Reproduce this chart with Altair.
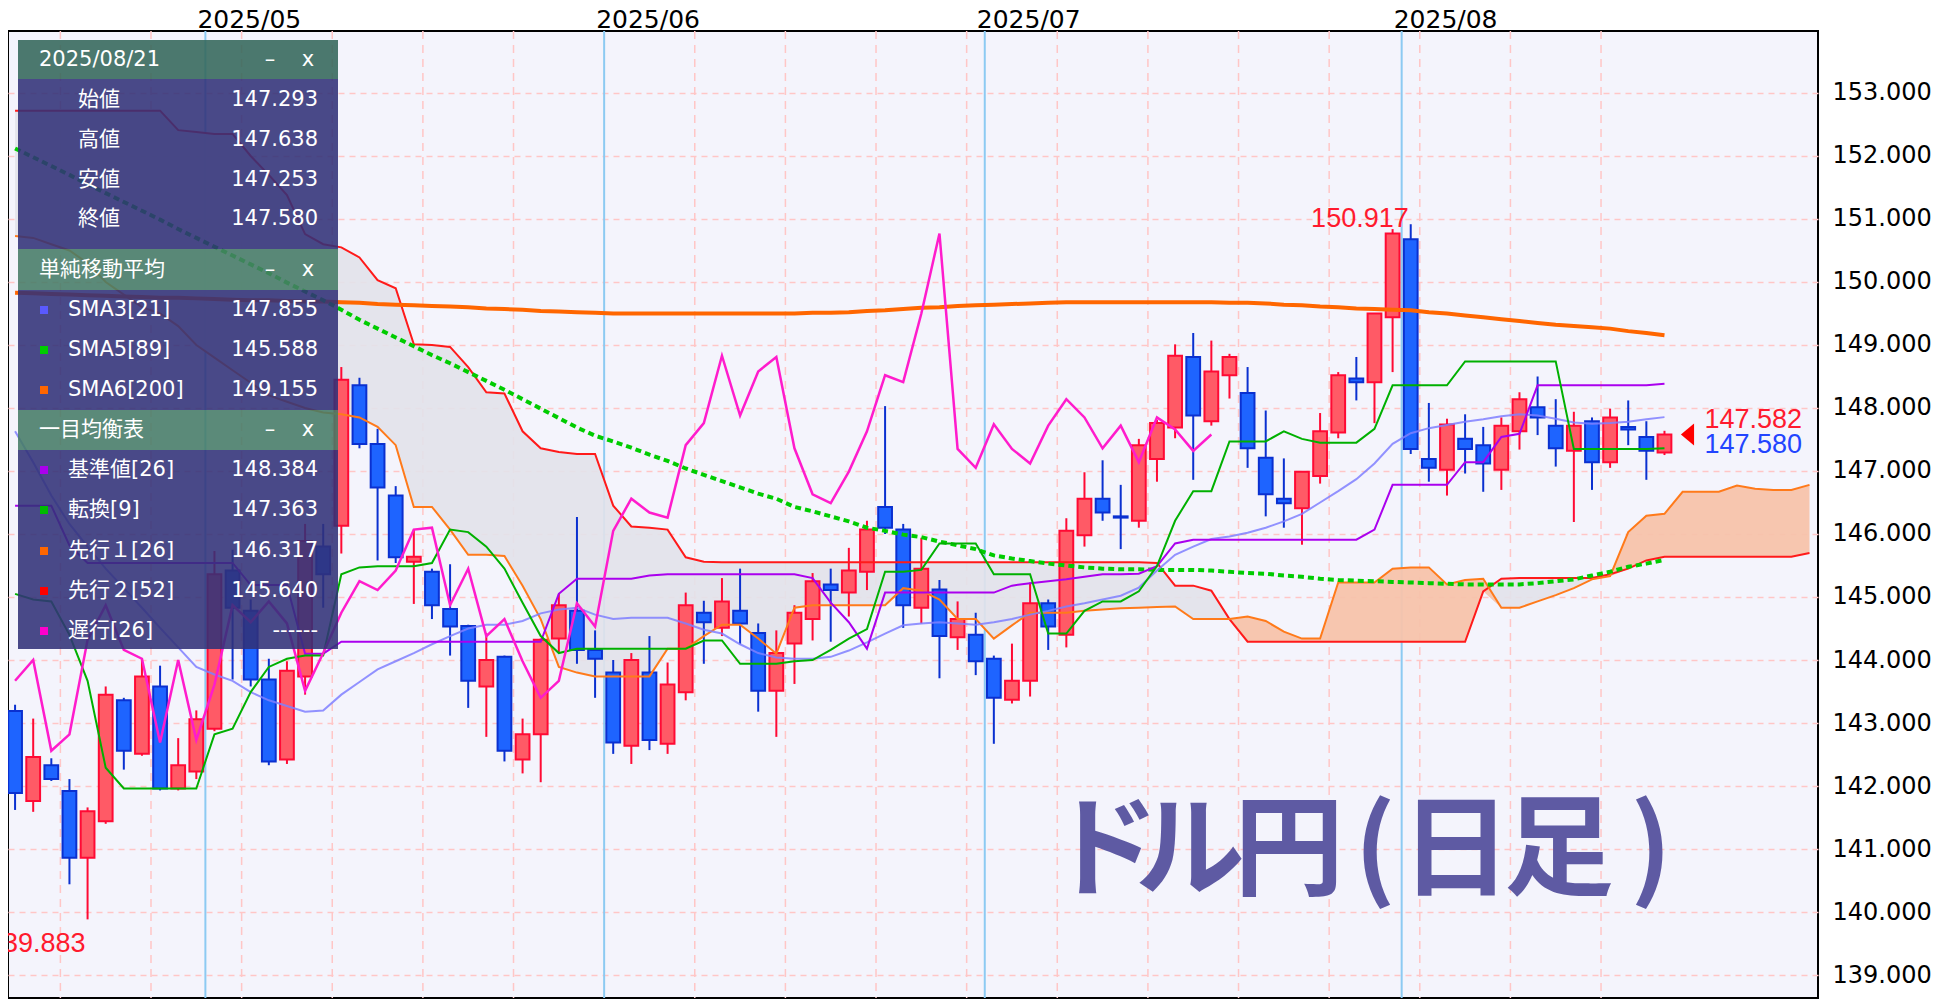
import altair as alt
import pandas as pd

# ---------------- data ----------------
opens = [143.19, 141.76, 142.33, 141.92, 140.86, 141.44, 143.36, 142.51, 143.58, 141.96,
         142.23, 142.91, 145.42, 144.78, 143.69, 142.42, 143.74, 145.80, 146.13, 148.36,
         147.43, 146.61, 145.56, 145.40, 144.81, 144.54, 143.58, 144.05, 142.42, 142.82,
         144.34, 144.78, 144.16, 143.80, 142.64, 143.80, 142.67, 143.49, 144.75, 144.51,
         144.78, 144.43, 143.51, 144.26, 144.65, 145.20, 145.07, 145.40, 146.43, 146.07,
         144.83, 145.12, 144.36, 144.40, 144.02, 143.37, 143.67, 144.90, 144.40, 145.98,
         146.56, 146.28, 146.21, 147.19, 147.69, 148.81, 147.79, 148.52, 148.24, 147.21,
         146.56, 146.41, 146.92, 147.61, 148.47, 148.41, 149.44, 150.68, 147.19, 147.02,
         147.51, 147.41, 147.02, 147.63, 148.01, 147.72, 147.32, 147.79, 147.14, 147.70,
         147.54, 147.293]
highs = [143.29, 143.07, 142.44, 142.11, 141.66, 143.58, 143.40, 144.02, 143.91, 142.76,
         143.20, 145.73, 145.75, 144.96, 144.02, 143.98, 146.16, 146.16, 148.65, 148.48,
         147.67, 146.76, 146.07, 145.45, 145.52, 144.56, 144.43, 144.07, 143.07, 144.34,
         145.05, 146.27, 144.47, 144.00, 144.11, 144.38, 143.96, 145.07, 144.94, 145.30,
         145.45, 144.58, 144.47, 144.87, 145.38, 145.45, 145.78, 146.21, 148.03, 146.16,
         145.94, 145.27, 144.93, 144.75, 144.07, 144.26, 145.23, 144.96, 146.25, 146.98,
         147.17, 146.78, 147.51, 147.81, 149.01, 149.19, 149.07, 148.86, 148.65, 147.96,
         147.20, 146.99, 147.92, 148.57, 148.81, 149.50, 150.84, 150.917, 148.08, 147.83,
         147.90, 147.70, 147.85, 148.25, 148.50, 148.14, 147.94, 147.85, 147.99, 148.12,
         147.79, 147.638]
lows = [141.62, 141.59, 142.08, 140.44, 139.883, 141.40, 142.26, 142.48, 141.93, 141.93,
        142.11, 142.87, 143.69, 143.58, 142.33, 142.35, 143.45, 144.83, 145.69, 147.36,
        145.58, 145.54, 144.89, 144.65, 144.07, 143.24, 142.78, 142.39, 142.20, 142.06,
        144.11, 143.94, 143.40, 142.51, 142.35, 142.57, 142.51, 143.36, 143.94, 144.38,
        144.25, 143.18, 142.78, 143.62, 144.31, 144.29, 144.69, 145.11, 146.00, 144.51,
        144.58, 143.71, 144.16, 143.76, 142.67, 143.31, 143.42, 144.16, 144.20, 145.80,
        146.21, 145.76, 146.10, 146.83, 147.52, 146.86, 147.72, 148.15, 147.05, 146.28,
        146.10, 145.83, 146.80, 147.52, 148.12, 147.76, 148.57, 147.27, 146.83, 146.61,
        146.96, 146.67, 146.70, 147.34, 147.57, 147.07, 146.19, 146.70, 147.05, 147.41,
        146.86, 147.253]
closes = [141.89, 142.46, 142.11, 140.86, 141.60, 143.45, 142.56, 143.74, 141.96, 142.33,
          143.06, 145.36, 144.83, 143.69, 142.39, 143.83, 145.89, 145.36, 148.45, 147.43,
          146.74, 145.63, 145.64, 144.87, 144.53, 143.67, 144.00, 142.56, 142.82, 144.32,
          144.87, 144.16, 144.02, 142.69, 144.00, 142.73, 143.61, 144.87, 144.60, 144.93,
          144.58, 143.51, 144.11, 144.75, 145.25, 145.11, 145.42, 146.07, 146.10, 144.87,
          145.45, 144.38, 144.65, 143.98, 143.40, 143.67, 144.90, 144.53, 146.05, 146.56,
          146.34, 146.26, 147.41, 147.76, 148.83, 147.88, 148.58, 148.81, 147.36, 146.63,
          146.49, 146.99, 147.63, 148.52, 148.41, 149.50, 150.77, 147.35, 147.05, 147.74,
          147.35, 147.12, 147.72, 148.14, 147.85, 147.36, 147.72, 147.14, 147.85, 147.66,
          147.32, 147.580]

sma21 = [147.63, 147.14, 146.61, 146.16, 145.80, 145.45, 145.14, 144.83, 144.51, 144.20,
         143.89, 143.77, 143.67, 143.49, 143.36, 143.27, 143.18, 143.20, 143.45, 143.65,
         143.85, 143.98, 144.11, 144.25, 144.38, 144.50, 144.56, 144.56, 144.62, 144.74,
         144.80, 144.83, 144.72, 144.65, 144.67, 144.67, 144.67, 144.58, 144.48, 144.42,
         144.25, 144.11, 144.04, 144.02, 144.02, 144.05, 144.15, 144.28, 144.42, 144.55,
         144.58, 144.60, 144.58, 144.56, 144.60, 144.65, 144.72, 144.78, 144.85, 144.90,
         144.96, 145.02, 145.15, 145.42, 145.67, 145.80, 145.92, 145.96, 146.02, 146.10,
         146.20, 146.32, 146.50, 146.68, 146.87, 147.12, 147.43, 147.60, 147.68, 147.73,
         147.78, 147.82, 147.87, 147.90, 147.88, 147.83, 147.77, 147.75, 147.76, 147.78,
         147.82, 147.855]
sma89 = [152.12, 151.98, 151.84, 151.70, 151.55, 151.41, 151.27, 151.13, 150.99, 150.84,
         150.70, 150.56, 150.42, 150.28, 150.14, 149.99, 149.85, 149.71, 149.56, 149.40,
         149.26, 149.12, 148.98, 148.84, 148.71, 148.57, 148.43, 148.29, 148.14, 147.99,
         147.84, 147.69, 147.56, 147.47, 147.37, 147.26, 147.16, 147.04, 146.94, 146.84,
         146.74, 146.64, 146.56, 146.43, 146.36, 146.28, 146.20, 146.10, 146.05, 145.99,
         145.95, 145.88, 145.82, 145.76, 145.66, 145.61, 145.57, 145.53, 145.50, 145.47,
         145.45, 145.44, 145.44, 145.43, 145.43, 145.43, 145.42, 145.40, 145.38, 145.37,
         145.34, 145.32, 145.29, 145.27, 145.26, 145.25, 145.24, 145.23, 145.22, 145.21,
         145.20, 145.20, 145.20, 145.20, 145.22, 145.25, 145.28, 145.34, 145.40, 145.48,
         145.53, 145.588]
sma200 = [149.83, 149.82, 149.81, 149.80, 149.79, 149.78, 149.77, 149.76, 149.75, 149.75,
          149.74, 149.73, 149.72, 149.71, 149.71, 149.70, 149.69, 149.69, 149.68, 149.67,
          149.65, 149.64, 149.63, 149.62, 149.61, 149.60, 149.58, 149.57, 149.56, 149.54,
          149.53, 149.52, 149.51, 149.50, 149.50, 149.50, 149.50, 149.50, 149.50, 149.50,
          149.50, 149.50, 149.50, 149.50, 149.51, 149.51, 149.52, 149.54, 149.55, 149.57,
          149.59, 149.60, 149.62, 149.63, 149.64, 149.65, 149.66, 149.67, 149.68, 149.68,
          149.68, 149.68, 149.68, 149.68, 149.68, 149.68, 149.68, 149.67, 149.67, 149.66,
          149.64, 149.63, 149.61, 149.60, 149.58, 149.57, 149.56, 149.55, 149.52, 149.50,
          149.47, 149.44, 149.41, 149.38, 149.35, 149.32, 149.30, 149.28, 149.26, 149.22,
          149.19, 149.155]
kijun = [146.45, 146.45, 146.45, 145.82, 145.54, 145.54, 145.54, 145.54, 145.54, 145.54,
         145.54, 145.54, 145.54, 145.19, 145.19, 145.19, 144.10, 144.10, 144.29, 144.29,
         144.29, 144.29, 144.29, 144.29, 144.29, 144.29, 144.29, 144.29, 144.29, 144.29,
         145.05, 145.29, 145.29, 145.29, 145.29, 145.34, 145.36, 145.36, 145.36, 145.36,
         145.36, 145.36, 145.36, 145.36, 145.30, 144.91, 144.60, 144.18, 145.07, 145.07,
         145.07, 145.07, 145.07, 145.07, 145.07, 145.18, 145.22, 145.25, 145.28, 145.32,
         145.36, 145.36, 145.37, 145.49, 145.85, 145.91, 145.91, 145.91, 145.91, 145.91,
         145.91, 145.91, 145.91, 145.91, 145.91, 146.07, 146.78, 146.78, 146.78, 146.78,
         147.14, 147.14, 147.54, 147.59, 148.36, 148.36, 148.36, 148.36, 148.36, 148.36,
         148.36, 148.384]
tenkan = [145.05, 144.96, 144.93, 144.40, 143.67, 142.29, 141.96, 141.96, 141.96, 141.96,
          141.96, 142.82, 142.91, 143.49, 143.89, 144.02, 144.07, 144.07, 145.36, 145.47,
          145.49, 145.49, 145.49, 145.54, 146.07, 146.03, 145.80, 145.45, 144.91, 144.38,
          144.11, 144.18, 144.18, 144.18, 144.18, 144.18, 144.18, 144.18, 144.31, 144.31,
          143.94, 143.94, 143.94, 143.98, 144.00, 144.16, 144.34, 144.49, 145.40, 145.40,
          145.43, 145.85, 145.85, 145.85, 145.36, 145.36, 145.36, 144.42, 144.42, 144.78,
          144.93, 144.93, 145.09, 145.49, 146.21, 146.68, 146.68, 147.47, 147.47, 147.47,
          147.63, 147.51, 147.45, 147.45, 147.45, 147.67, 148.36, 148.36, 148.36, 148.36,
          148.74, 148.74, 148.74, 148.74, 148.74, 148.74, 147.35, 147.35, 147.35, 147.35,
          147.35, 147.363]
senkou_a = [150.73, 150.70, 150.60, 150.50, 150.30, 150.00, 149.80, 149.60, 149.50, 149.30,
            149.00, 148.80, 148.60, 148.40, 148.20, 148.10, 148.00, 147.93, 147.90, 147.85,
            147.70, 147.41, 146.43, 146.43, 146.07, 145.67, 145.67, 145.65, 145.18, 144.65,
            143.89, 143.80, 143.74, 143.74, 143.74, 143.74, 144.18, 144.18, 144.38, 144.56,
            144.56, 144.34, 144.10, 144.83, 144.87, 144.87, 144.87, 144.87, 144.87, 145.14,
            145.10, 144.96, 144.65, 144.65, 144.34, 144.55, 144.75, 144.75, 144.75, 144.78,
            144.80, 144.82, 144.83, 144.84, 144.85, 144.65, 144.65, 144.65, 144.69, 144.62,
            144.45, 144.34, 144.34, 145.23, 145.23, 145.23, 145.45, 145.47, 145.47, 145.20,
            145.27, 145.29, 144.83, 144.83, 144.93, 145.03, 145.14, 145.28, 145.33, 146.03,
            146.29, 146.32, 146.67, 146.67, 146.67, 146.77, 146.72, 146.70, 146.70, 146.78]
senkou_b = [152.72, 152.72, 152.72, 152.72, 152.72, 152.72, 152.72, 152.72, 152.72, 152.41,
            152.38, 152.35, 152.35, 152.00, 151.70, 151.38, 150.76, 150.60, 150.55, 150.39,
            150.03, 149.90, 149.01, 149.00, 148.97, 148.65, 148.25, 148.23, 147.63, 147.36,
            147.30, 147.27, 147.27, 146.45, 146.12, 146.10, 146.07, 145.63, 145.56, 145.55,
            145.55, 145.55, 145.55, 145.55, 145.55, 145.55, 145.55, 145.55, 145.55, 145.55,
            145.55, 145.55, 145.55, 145.55, 145.55, 145.55, 145.55, 145.55, 145.55, 145.55,
            145.55, 145.55, 145.55, 145.54, 145.18, 145.18, 145.10, 144.65, 144.29, 144.29,
            144.29, 144.29, 144.29, 144.29, 144.29, 144.29, 144.29, 144.29, 144.29, 144.29,
            144.29, 145.09, 145.29, 145.30, 145.30, 145.30, 145.30, 145.30, 145.36, 145.45,
            145.58, 145.64, 145.64, 145.64, 145.64, 145.64, 145.64, 145.64, 145.64, 145.70]
chikou = [143.67, 144.00, 142.56, 142.82, 144.32, 144.87, 144.16, 144.02, 142.69, 144.00,
          142.73, 143.61, 144.87, 144.60, 144.93, 144.58, 143.51, 144.11, 144.75, 145.25,
          145.11, 145.42, 146.07, 146.10, 144.87, 145.45, 144.38, 144.65, 143.98, 143.40,
          143.67, 144.90, 144.53, 146.05, 146.56, 146.34, 146.26, 147.41, 147.76, 148.83,
          147.88, 148.58, 148.81, 147.36, 146.63, 146.49, 146.99, 147.63, 148.52, 148.41,
          149.50, 150.77, 147.35, 147.05, 147.74, 147.35, 147.12, 147.72, 148.14, 147.85,
          147.36, 147.72, 147.14, 147.85, 147.66, 147.32, 147.58]

# calendar: index of Mondays and of first trading day of each month
monday_idx = [3, 8, 13, 18, 23, 28, 38, 43, 48, 53, 58, 63, 68, 73, 78, 83, 88]
month_idx = [11, 33, 54, 77]
month_labels = ["2025/05", "2025/06", "2025/07", "2025/08"]
y_ticks = list(range(139, 154))

# info panel texts
panel_date = "2025/08/21"
ohlc_labels = ["始値", "高値", "安値", "終値"]
ohlc_values = ["147.293", "147.638", "147.253", "147.580"]
sma_labels = ["SMA3[21]", "SMA5[89]", "SMA6[200]"]
sma_values = ["147.855", "145.588", "149.155"]
sma_colors = ["#5a5aff", "#00cc00", "#ff6600"]
ichi_labels = ["基準値[26]", "転換[9]", "先行１[26]", "先行２[52]", "遅行[26]"]
ichi_values = ["148.384", "147.363", "146.317", "145.640", "------"]
ichi_colors = ["#aa00ee", "#00bb00", "#ff6600", "#ff0000", "#ff00cc"]
section_titles = ["単純移動平均", "一目均衡表"]
price_tags = ["147.582", "147.580"]
title_chars = ["ド", "ル", "円", "(", "日", "足", ")"]

# ---------------- styling ----------------
FONT = "DejaVu Sans, Noto Sans CJK JP"
W, H = 1810, 967
RED_F, RED_S = "#ff5a66", "#ff0a34"
BLU_F, BLU_S = "#1e64ff", "#0a30d0"

xscale = alt.Scale(domain=[-0.39, 99.47], nice=False, zero=False)
yscale = alt.Scale(domain=[138.635, 153.984], nice=False, zero=False)
yaxis = alt.Axis(orient="right", values=y_ticks, format=".3f", labelFontSize=24,
                 labelFont="DejaVu Sans", labelColor="#000000", ticks=False, domain=False,
                 labelPadding=14, grid=True, gridColor="#ffc6c6", gridDash=[6, 5],
                 gridWidth=1.5, title=None)


def X(f):
    return alt.X(f, type="quantitative", scale=xscale, axis=None)


def Y(f):
    return alt.Y(f, type="quantitative", scale=yscale, axis=yaxis)


N = len(closes)
candles = pd.DataFrame({"i": list(range(N)), "o": opens, "h": highs, "l": lows, "c": closes})
up = "datum.c >= datum.o"

layers = []

# vertical grid
layers.append(alt.Chart(pd.DataFrame({"i": monday_idx})).transform_calculate(xs="datum.i - 0.5")
              .mark_rule(color="#ffc6c6", strokeWidth=1.5, strokeDash=[8, 6])
              .encode(x=X("xs:Q")))
layers.append(alt.Chart(pd.DataFrame({"i": month_idx})).transform_calculate(xs="datum.i - 0.5")
              .mark_rule(color="#8ccaf2", strokeWidth=2)
              .encode(x=X("xs:Q")))

# cloud
cloud = pd.DataFrame({"i": list(range(len(senkou_a))), "a": senkou_a, "b": senkou_b})
cbase = alt.Chart(cloud).transform_calculate(lo="min(datum.a, datum.b)")
layers.append(cbase.mark_area(color="#e2e2ea", opacity=0.9, clip=True)
              .encode(x=X("i:Q"), y=Y("b:Q"), y2="lo:Q"))
layers.append(cbase.mark_area(color="#f7c3ab", opacity=0.95, clip=True)
              .encode(x=X("i:Q"), y=Y("a:Q"), y2="lo:Q"))

# candles
layers.append(alt.Chart(candles).mark_rule(strokeWidth=2)
              .encode(x=X("i:Q"), y=Y("l:Q"), y2="h:Q",
                      color=alt.condition(up, alt.value(RED_S), alt.value(BLU_S))))
layers.append(alt.Chart(candles).transform_calculate(x1="datum.i - 0.38", x2="datum.i + 0.38")
              .mark_rect(strokeWidth=2)
              .encode(x=X("x1:Q"), x2="x2:Q", y=Y("o:Q"), y2="c:Q",
                      fill=alt.condition(up, alt.value(RED_F), alt.value(BLU_F)),
                      stroke=alt.condition(up, alt.value(RED_S), alt.value(BLU_S))))


def line(values, color, width, dash=None, opacity=1.0):
    df = pd.DataFrame({"i": list(range(len(values))), "v": values})
    kw = dict(color=color, strokeWidth=width, opacity=opacity, clip=True)
    if dash:
        kw["strokeDash"] = dash
    return alt.Chart(df).mark_line(**kw).encode(x=X("i:Q"), y=Y("v:Q"))


layers.append(line(senkou_b, "#ff1a1a", 2))
layers.append(line(senkou_a, "#ff7a1a", 2))
layers.append(line(sma200, "#ff6600", 4))
layers.append(line(sma89, "#00cc00", 4, dash=[6, 4]))
layers.append(line(sma21, "#7f7fff", 2, opacity=0.85))
layers.append(line(kijun, "#aa00ee", 2))
layers.append(line(tenkan, "#00b000", 2))
layers.append(line(chikou, "#ff1ccc", 2.5))

# big title (each glyph placed)
title_df = pd.DataFrame({"t": title_chars, "x": [1096, 1182, 1281, 1367, 1448, 1551, 1643]})
layers.append(alt.Chart(title_df).mark_text(font="Noto Sans CJK JP", fontWeight="bold",
                                            fontSize=110, color="#5e5aa3", align="center",
                                            baseline="alphabetic")
              .encode(x=alt.X("x:Q", scale=None), y=alt.value(856), text="t:N"))

# high / low labels
hi_i = highs.index(max(highs))
lo_i = lows.index(min(lows))
layers.append(alt.Chart(pd.DataFrame({"i": [hi_i], "p": [highs[hi_i]], "t": [f"{highs[hi_i]:.3f}"]}))
              .mark_text(font="Liberation Sans", fontSize=27, color="#ff1a2e", align="right",
                         baseline="alphabetic", dx=-2, dy=3)
              .encode(x=X("i:Q"), y=Y("p:Q"), text="t:N"))
layers.append(alt.Chart(pd.DataFrame({"i": [lo_i], "p": [lows[lo_i]], "t": [f"{lows[lo_i]:.3f}"]}))
              .mark_text(font="Liberation Sans", fontSize=27, color="#ff1a2e", align="right",
                         baseline="alphabetic", dx=-2, dy=33)
              .encode(x=X("i:Q"), y=Y("p:Q"), text="t:N"))

# last price marker
last = pd.DataFrame({"i": [N - 1], "c": [closes[-1]], "t1": [price_tags[0]], "t2": [price_tags[1]]})
layers.append(alt.Chart(last).mark_point(shape="M0.6,-1L-0.6,0L0.6,1Z", size=484, filled=True,
                                         color="#ff0000", opacity=1, xOffset=23)
              .encode(x=X("i:Q"), y=Y("c:Q")))
layers.append(alt.Chart(last).mark_text(font="Liberation Sans", fontSize=27, color="#ff1a2e",
                                        align="left", baseline="middle", dx=40, dy=-14)
              .encode(x=X("i:Q"), y=Y("c:Q"), text="t1:N"))
layers.append(alt.Chart(last).mark_text(font="Liberation Sans", fontSize=27, color="#2244ff",
                                        align="left", baseline="middle", dx=40, dy=11)
              .encode(x=X("i:Q"), y=Y("c:Q"), text="t2:N"))

# month labels on top
layers.append(alt.Chart(pd.DataFrame({"i": month_idx, "lab": month_labels}))
              .transform_calculate(xs="datum.i - 0.5")
              .mark_text(font="DejaVu Sans", fontSize=25, color="#000000", align="left",
                         baseline="alphabetic", dx=-8)
              .encode(x=X("xs:Q"), y=alt.value(-3), text="lab:N"))

# ---------------- info panel (pixel layout) ----------------
px = lambda f: alt.X(f, type="quantitative", scale=None)
py = lambda f: alt.Y(f, type="quantitative", scale=None)

prect = pd.DataFrame({
    "x": [10] * 6, "x2": [330] * 6,
    "y": [9, 48, 218, 259, 379, 419], "y2": [48, 218, 259, 379, 419, 618],
    "col": ["#33675a", "#313178", "#457b66", "#313178", "#457b66", "#313178"]})
layers.append(alt.Chart(prect).mark_rect(opacity=0.88)
              .encode(x=px("x"), x2="x2", y=py("y"), y2="y2", color=alt.Color("col:N", scale=None)))

row_sma = [279, 319, 359]
row_ichi = [439, 479, 520, 560, 600]
sq = pd.DataFrame({"y": row_sma + row_ichi, "col": sma_colors + ichi_colors})
sq["y1"] = sq["y"] - 4
sq["y2"] = sq["y"] + 4
sq["x1"] = 32
sq["x2"] = 40
layers.append(alt.Chart(sq).mark_rect()
              .encode(x=px("x1"), x2="x2", y=py("y1"), y2="y2", color=alt.Color("col:N", scale=None)))

left_txt = pd.DataFrame({
    "x": [31, 31, 31] + [70] * 4 + [60] * 8,
    "y": [28.5, 238.5, 399] + [69, 109, 149, 188] + row_sma + row_ichi,
    "t": [panel_date] + section_titles + ohlc_labels + sma_labels + ichi_labels})
layers.append(alt.Chart(left_txt).mark_text(font=FONT, fontSize=21, color="#ffffff", align="left",
                                            baseline="middle")
              .encode(x=px("x"), y=py("y"), text="t:N"))
right_txt = pd.DataFrame({
    "x": [310] * 12,
    "y": [69, 109, 149, 188] + row_sma + row_ichi,
    "t": ohlc_values + sma_values + ichi_values})
layers.append(alt.Chart(right_txt).mark_text(font=FONT, fontSize=21, color="#ffffff", align="right",
                                             baseline="middle")
              .encode(x=px("x"), y=py("y"), text="t:N"))
ctl_txt = pd.DataFrame({"x": [262, 300] * 3, "y": [28.5, 28.5, 238.5, 238.5, 399, 399],
                        "t": ["–", "x"] * 3})
layers.append(alt.Chart(ctl_txt).mark_text(font=FONT, fontSize=21, color="#ffffff", align="center",
                                           baseline="middle")
              .encode(x=px("x"), y=py("y"), text="t:N"))

chart = alt.layer(*layers).properties(
    width=W, height=H,
    autosize=alt.AutoSizeParams(type="none"),
    padding={"left": 0, "top": 23, "right": 126, "bottom": 3},
    background="#ffffff",
).configure_view(fill="#f4f4fc", stroke="#000000", strokeWidth=2)

chart.save("out.html", embed_options={"renderer": "svg", "actions": False})
